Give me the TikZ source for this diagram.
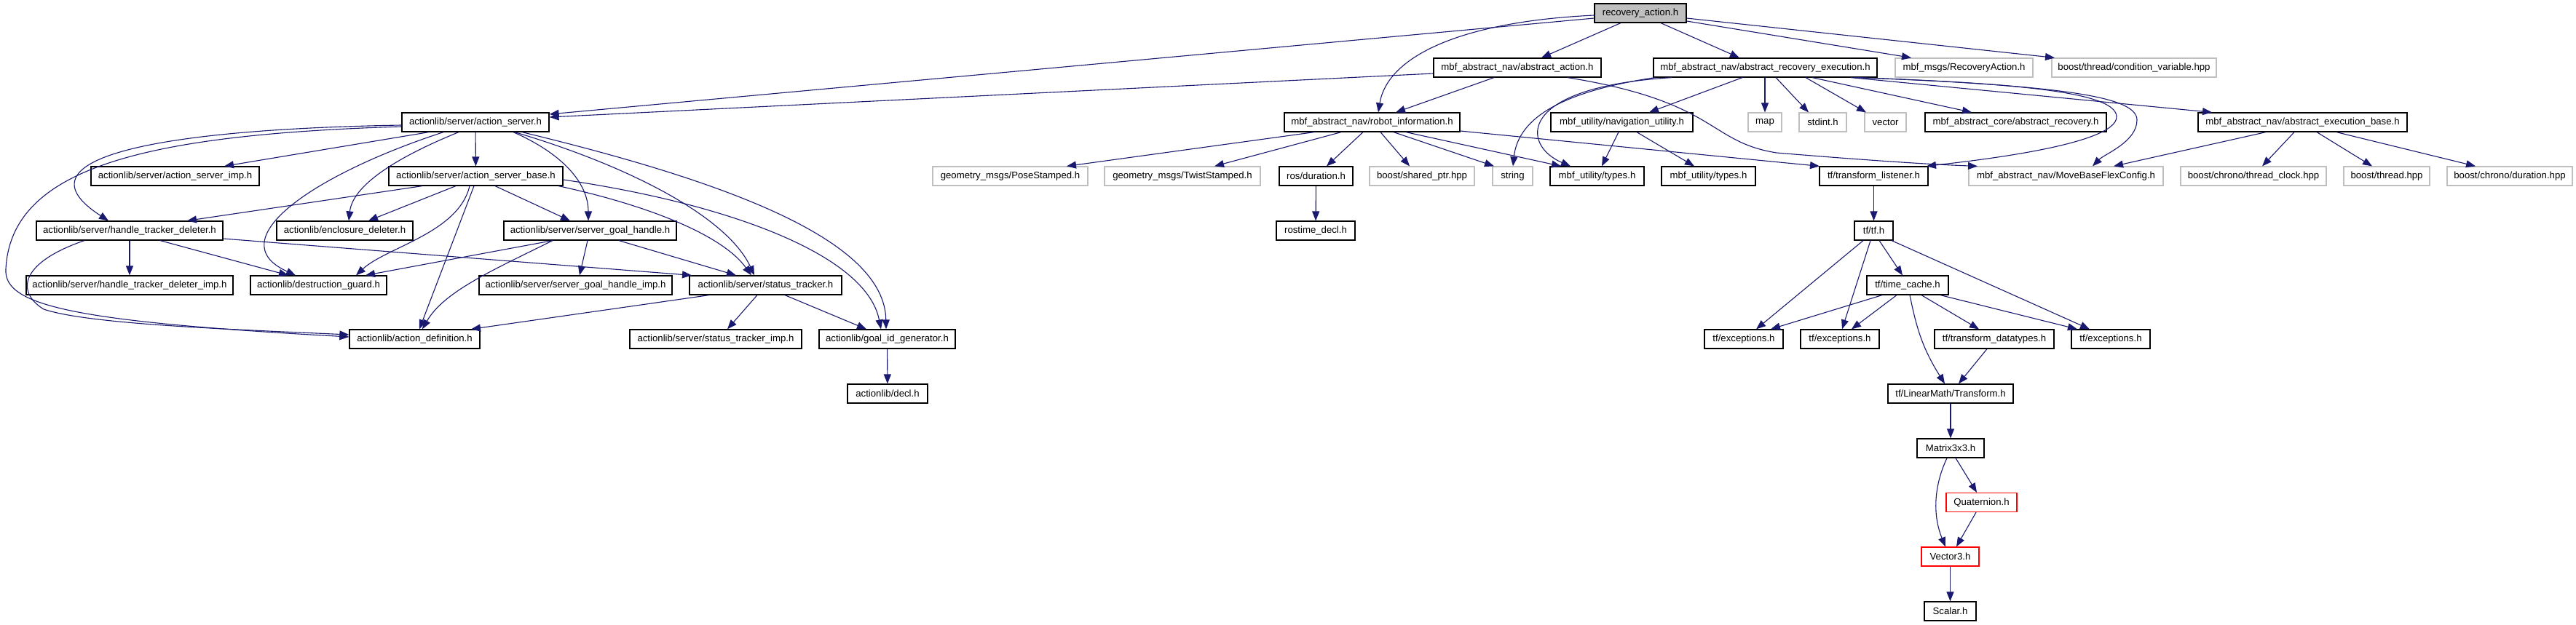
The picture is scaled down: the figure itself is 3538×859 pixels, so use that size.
\documentclass[tikz,border=0pt]{standalone}
\usepackage{fontspec}
\setmainfont{Liberation Sans}
\usetikzlibrary{arrows.meta,calc}
\definecolor{edgecol}{HTML}{191970}
\definecolor{extgray}{HTML}{BFBFBF}
\definecolor{rootfill}{HTML}{BFBFBF}
\tikzset{
  nd/.style={draw=black, line width=1.2pt, fill=white, minimum height=26pt, inner sep=0pt, font=\fontsize{13.2}{15}\selectfont, text=black},
  ext/.style={nd, draw=extgray},
  rootnd/.style={nd, fill=rootfill},
  rednd/.style={nd, draw=red},
  edge/.style={draw=edgecol, line width=1.1pt, -{Triangle[length=13pt,width=10pt]}}
}
\begin{document}
\begin{tikzpicture}[x=1pt,y=-1pt]
\fill[white] (0,0) rectangle (3538,859);
\useasboundingbox (0,0) rectangle (3538,859);
% row 0
\node[rootnd, minimum width=126pt] (root) at (2253,18) {recovery\_action.h};
% row 1
\node[nd, minimum width=230pt] (aa) at (2084,93) {mbf\_abstract\_nav/abstract\_action.h};
\node[nd, minimum width=307pt] (are) at (2424.5,93) {mbf\_abstract\_nav/abstract\_recovery\_execution.h};
\node[ext, minimum width=189pt] (ra) at (2697.5,93) {mbf\_msgs/RecoveryAction.h};
\node[ext, minimum width=226pt] (cv) at (2931,93) {boost/thread/condition\_variable.hpp};
% row 2
\node[nd, minimum width=202pt] (as) at (653,168) {actionlib/server/action\_server.h};
\node[nd, minimum width=241pt] (ri) at (1884.5,168) {mbf\_abstract\_nav/robot\_information.h};
\node[nd, minimum width=195pt] (nu) at (2227.5,168) {mbf\_utility/navigation\_utility.h};
\node[ext, minimum width=46pt] (map) at (2424,168) {map};
\node[ext, minimum width=65pt] (stdint) at (2503.5,168) {stdint.h};
\node[ext, minimum width=57pt] (vec) at (2589.5,168) {vector};
\node[nd, minimum width=249pt] (ar) at (2768.5,168) {mbf\_abstract\_core/abstract\_recovery.h};
\node[nd, minimum width=287pt] (aeb) at (3162.5,168) {mbf\_abstract\_nav/abstract\_execution\_base.h};
% row 3
\node[nd, minimum width=231pt] (asi) at (240.5,242) {actionlib/server/action\_server\_imp.h};
\node[nd, minimum width=239pt] (asb) at (653.5,242) {actionlib/server/action\_server\_base.h};
\node[ext, minimum width=213pt] (ps) at (1387.5,242) {geometry\_msgs/PoseStamped.h};
\node[ext, minimum width=214pt] (ts) at (1624,242) {geometry\_msgs/TwistStamped.h};
\node[nd, minimum width=101pt] (rd) at (1807.5,242) {ros/duration.h};
\node[ext, minimum width=144pt] (sp) at (1953,242) {boost/shared\_ptr.hpp};
\node[ext, minimum width=55pt] (str) at (2077.5,242) {string};
\node[nd, minimum width=129pt] (ty1) at (2193.5,242) {mbf\_utility/types.h};
\node[nd, minimum width=129pt] (ty2) at (2346.5,242) {mbf\_utility/types.h};
\node[nd, minimum width=149pt] (tl) at (2573.5,242) {tf/transform\_listener.h};
\node[ext, minimum width=267pt] (mbfc) at (2837.5,242) {mbf\_abstract\_nav/MoveBaseFlexConfig.h};
\node[ext, minimum width=200pt] (tc) at (3095,242) {boost/chrono/thread\_clock.hpp};
\node[ext, minimum width=118pt] (th) at (3278,242) {boost/thread.hpp};
\node[ext, minimum width=172pt] (du) at (3447,242) {boost/chrono/duration.hpp};
% row 4
\node[nd, minimum width=256pt] (htd) at (178,317) {actionlib/server/handle\_tracker\_deleter.h};
\node[nd, minimum width=187pt] (ed) at (473.5,317) {actionlib/enclosure\_deleter.h};
\node[nd, minimum width=237pt] (sgh) at (810.5,317) {actionlib/server/server\_goal\_handle.h};
\node[nd, minimum width=108pt] (rtd) at (1807,317) {rostime\_decl.h};
\node[nd, minimum width=53pt] (tf) at (2573.5,317) {tf/tf.h};
% row 5
\node[nd, minimum width=284pt] (htdi) at (178,392) {actionlib/server/handle\_tracker\_deleter\_imp.h};
\node[nd, minimum width=187pt] (dg) at (437.5,392) {actionlib/destruction\_guard.h};
\node[nd, minimum width=265pt] (sghi) at (790.5,392) {actionlib/server/server\_goal\_handle\_imp.h};
\node[nd, minimum width=209pt] (st) at (1051.5,392) {actionlib/server/status\_tracker.h};
\node[nd, minimum width=112pt] (tcache) at (2620,392) {tf/time\_cache.h};
% row 6
\node[nd, minimum width=179pt] (ad) at (569.5,466) {actionlib/action\_definition.h};
\node[nd, minimum width=236pt] (sti) at (983,466) {actionlib/server/status\_tracker\_imp.h};
\node[nd, minimum width=187pt] (gig) at (1218.5,466) {actionlib/goal\_id\_generator.h};
\node[nd, minimum width=108pt] (ex1) at (2395,466) {tf/exceptions.h};
\node[nd, minimum width=108pt] (ex2) at (2527,466) {tf/exceptions.h};
\node[nd, minimum width=164pt] (tdt) at (2739,466) {tf/transform\_datatypes.h};
\node[nd, minimum width=108pt] (ex3) at (2899,466) {tf/exceptions.h};
% row 7
\node[nd, minimum width=110pt] (decl) at (1219,541) {actionlib/decl.h};
\node[nd, minimum width=172pt] (tr) at (2679,541) {tf/LinearMath/Transform.h};
% rows 8-11
\node[nd, minimum width=92pt] (m33) at (2679,616) {Matrix3x3.h};
\node[rednd, minimum width=97pt] (q) at (2721.5,690.5) {Quaternion.h};
\node[rednd, minimum width=79pt] (v3) at (2678.5,765) {Vector3.h};
\node[nd, minimum width=71pt] (sc) at (2678.5,840) {Scalar.h};

% ---- edges: top
\draw[edge] (root.west |- 0,25) -- (as.east |- 0,157);
\draw[edge] (aa.west |- 0,101) -- (as.east |- 0,161);
\draw[edge] (root.west |- 0,21) .. controls (2000,30) and (1905,80) .. (ri.north -| 1893,0);
\draw[edge] (root.south -| 2226,0) -- (aa.north -| 2117,0);
\draw[edge] (root.south -| 2281,0) -- (are.north -| 2389,0);
\draw[edge] (root.east |- 0,29) -- (ra.north -| 2625,0);
\draw[edge] (root.east |- 0,25) -- (cv.north -| 2822,0);
\draw[edge] (aa.south -| 2052,0) -- (ri.north -| 1917,0);
\draw[edge] (aa.south -| 2153,0) .. controls (2360,140) and (2345,195) .. (2440,210) .. controls (2560,220) and (2650,226) .. (mbfc.north -| 2716,0);
\draw[edge] (are.south -| 2273,0) .. controls (2150,125) and (2085,160) .. (str.north -| 2078,0);
\draw[edge] (are.south -| 2296,0) .. controls (2080,120) and (2090,200) .. (ty1.north -| 2157,0);
\draw[edge] (are.south -| 2393,0) -- (nu.north -| 2265,0);
\draw[edge] (are.south -| 2424,0) -- (map.north -| 2424,0);
\draw[edge] (are.south -| 2439,0) -- (stdint.north -| 2484,0);
\draw[edge] (are.south -| 2480,0) -- (vec.north -| 2563,0);
\draw[edge] (are.south -| 2489,0) -- (ar.north -| 2708,0);
\draw[edge] (are.south -| 2542,0) -- (aeb.north -| 3038,0);
\draw[edge] (are.south -| 2547,0) .. controls (2800,115) and (2905,130) .. (2907,160) .. controls (2909,200) and (2700,222) .. (tl.north -| 2646,0);
\draw[edge] (are.south -| 2552,0) .. controls (2850,118) and (2935,135) .. (2935,165) .. controls (2935,195) and (2890,212) .. (mbfc.north -| 2874,0);
\draw[edge] (ri.south -| 1805,0) -- (ps.north -| 1465,0);
\draw[edge] (ri.south -| 1842,0) -- (ts.north -| 1668,0);
\draw[edge] (ri.south -| 1872,0) -- (rd.north -| 1822,0);
\draw[edge] (ri.south -| 1896,0) -- (sp.north -| 1936,0);
\draw[edge] (ri.south -| 1914,0) -- (str.north -| 2052,0);
\draw[edge] (ri.south -| 1931,0) -- (ty1.north -| 2144,0);
\draw[edge] (ri.east |- 0,180) -- (tl.north -| 2499,0);
\draw[edge] (nu.south -| 2223,0) -- (ty1.north -| 2200,0);
\draw[edge] (nu.south -| 2248,0) -- (ty2.north -| 2327,0);
\draw[edge] (aeb.south -| 3112,0) -- (mbfc.north -| 2903,0);
\draw[edge] (aeb.south -| 3151,0) -- (tc.north -| 3107,0);
\draw[edge] (aeb.south -| 3182,0) -- (th.north -| 3258,0);
\draw[edge] (aeb.south -| 3209,0) -- (du.north -| 3400,0);
\draw[edge] (rd) -- (rtd);
% ---- tf
\draw[edge] (tl) -- (tf);
\draw[edge] (tf.south -| 2559,0) -- (ex1.north -| 2412,0);
\draw[edge] (tf.south -| 2569,0) -- (ex2.north -| 2530,0);
\draw[edge] (tf.south -| 2581,0) -- (tcache.north -| 2613,0);
\draw[edge] (tf.south -| 2598,0) -- (ex3.north -| 2870,0);
\draw[edge] (tcache.south -| 2585,0) -- (ex1.north -| 2432,0);
\draw[edge] (tcache.south -| 2605,0) -- (ex2.north -| 2543,0);
\draw[edge] (tcache.south -| 2623,0) .. controls (2632,450) and (2640,478) .. (tr.north -| 2671,0);
\draw[edge] (tcache.south -| 2639,0) -- (tdt.north -| 2718,0);
\draw[edge] (tcache.south -| 2665,0) -- (ex3.north -| 2853,0);
\draw[edge] (tdt.south -| 2729,0) -- (tr.north -| 2690,0);
\draw[edge] (tr) -- (m33);
\draw[edge] (m33.south -| 2674,0) .. controls (2655,670) and (2655,710) .. (v3.north -| 2672,0);
\draw[edge] (m33.south -| 2686,0) -- (q.north -| 2715,0);
\draw[edge] (q.south -| 2714,0) -- (v3.north -| 2687,0);
\draw[edge] (v3) -- (sc);
% ---- actionlib
\draw[edge] (gig) -- (decl);
\draw[edge] (as.south -| 589,0) -- (asi.north -| 308,0);
\draw[edge] (as) -- (asb);
\draw[edge] (as.west |- 0,172) .. controls (200,178) and (20,220) .. (htd.north -| 149,0);
\draw[edge] (as.west |- 0,174) .. controls (200,185) and (15,230) .. (8,370) .. controls (5,420) and (100,442) .. (ad.west |- 0,463);
\draw[edge] (htd.south -| 116,0) .. controls (30,360) and (20,400) .. (60,425) .. controls (120,445) and (300,452) .. (ad.west |- 0,460);
\draw[edge] (as.south -| 630,0) .. controls (560,210) and (485,250) .. (ed.north -| 479,0);
\draw[edge] (as.south -| 609,0) .. controls (430,240) and (300,330) .. (dg.north -| 406,0);
\draw[edge] (as.south -| 705,0) .. controls (770,210) and (808,250) .. (sgh.north -| 808,0);
\draw[edge] (as.south -| 707,0) .. controls (870,230) and (1000,300) .. (st.north -| 1036,0);
\draw[edge] (as.south -| 717,0) .. controls (1000,250) and (1215,330) .. (gig.north -| 1217,0);
\draw[edge] (asb.east |- 0,247) .. controls (1000,280) and (1190,350) .. (gig.north -| 1210,0);
\draw[edge] (asb.south -| 580,0) -- (htd.north -| 257,0);
\draw[edge] (asb.south -| 626,0) -- (ed.north -| 506,0);
\draw[edge] (asb.south -| 645,0) .. controls (630,320) and (530,340) .. (dg.north -| 489,0);
\draw[edge] (asb.south -| 651,0) -- (ad.north -| 576,0);
\draw[edge] (asb.south -| 680,0) -- (sgh.north -| 783,0);
\draw[edge] (asb.south -| 767,0) .. controls (880,280) and (990,320) .. (st.north -| 1032,0);
\draw[edge] (htd) -- (htdi);
\draw[edge] (htd.south -| 220,0) -- (dg.north -| 396,0);
\draw[edge] (htd.east |- 0,328) -- (st.north -| 950,0);
\draw[edge] (sgh.south -| 759,0) -- (dg.north -| 502,0);
\draw[edge] (sgh.south -| 759,0) .. controls (680,370) and (610,400) .. (ad.north -| 580,0);
\draw[edge] (sgh.south -| 807,0) -- (sghi.north -| 796,0);
\draw[edge] (sgh.south -| 850,0) -- (st.north -| 1011,0);
\draw[edge] (st.south -| 974,0) -- (ad.north -| 647,0);
\draw[edge] (st.south -| 1040,0) -- (sti.north -| 999,0);
\draw[edge] (st.south -| 1078,0) -- (gig.north -| 1190,0);
\end{tikzpicture}
\end{document}
